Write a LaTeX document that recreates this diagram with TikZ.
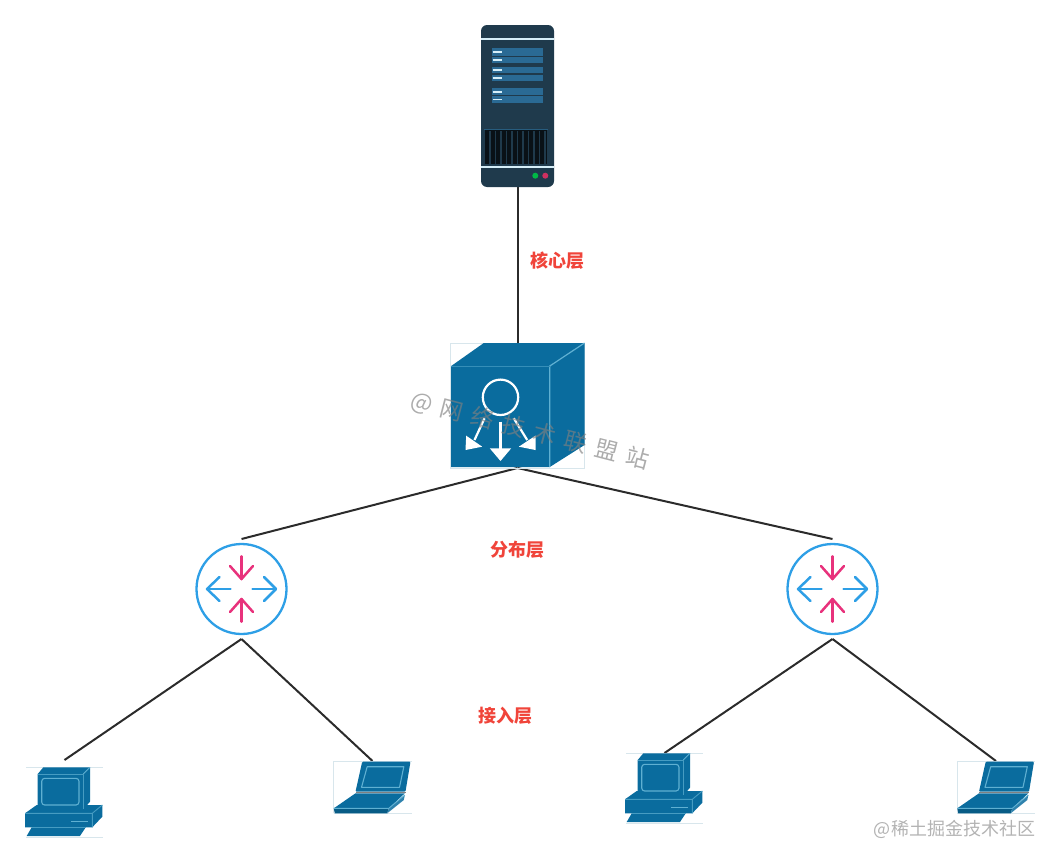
\documentclass[tikz,border=0pt]{standalone}
\usepackage{fontspec}
\usepackage{xcolor}
\usetikzlibrary{positioning}
\newfontfamily\cjk{Noto Sans CJK SC}

\definecolor{iconblue}{HTML}{0A6C9E}
\definecolor{iconedge}{HTML}{5FB0D2}
\definecolor{iconframe}{HTML}{D8E6EC}
\definecolor{rackdark}{HTML}{1F3A4C}
\definecolor{rackpanel}{HTML}{2A6A94}
\definecolor{rackline}{HTML}{D5EEF8}
\definecolor{ringblue}{HTML}{2E9FE6}
\definecolor{arrowpink}{HTML}{E8327C}
\definecolor{layerred}{HTML}{F0443A}
\definecolor{linkgray}{HTML}{2B2B2B}

% server rack, drawn over node #1
\newcommand{\servericon}[1]{
\begin{scope}[shift={(#1.center)},shift={(-36.5,-81)}]
\fill[rackdark,rounded corners=6pt] (0,0) rectangle (73,162);
\foreach \ya/\yb in {23.3/30.7,31.7/38.3,41.7/48.3,50/56,63.3/70,71/77.7}{
    \fill[rackpanel] (10.7,\ya) rectangle (62.3,\yb);
    \draw[rackline,line width=1.7pt] (11.7,{(\ya+\yb)/2}) -- (21.3,{(\ya+\yb)/2});
}
\fill[black!70!rackdark] (4,105) rectangle (66.3,139);
\draw[rackpanel!70!rackdark,line width=1pt] (3,104) -- (67,104);
\foreach \xa in {9,14.5,...,64}{
    \draw[rackdark,line width=1.7pt] (\xa,106) -- (\xa,139);
}
\draw[rackline,line width=1.6pt] (0,14) -- (73,14);
\draw[rackline,line width=1.6pt] (0,141.7) -- (73,141.7);
\fill[green!45!teal] (54.3,150.7) circle (3);
\fill[purple!75!pink] (64.3,150.7) circle (3);
\end{scope}
}

% switch cube, drawn over node #1
\newcommand{\coreicon}[1]{
\begin{scope}[shift={(#1.center)},shift={(-67,-62.5)}]
\draw[iconframe,line width=0.7pt] (0,0) rectangle (134,125);
\fill[iconblue] (0.7,23) -- (33.3,0) -- (134,0) -- (134,102) -- (99.3,124) -- (0.7,124) -- cycle;
\draw[iconedge,line width=1.2pt] (134,0) -- (99.3,23) -- (99.3,124);
\draw[iconedge!50!iconblue,line width=0.7pt] (0.7,23) -- (99.3,23);
\draw[white,line width=2.2pt] (50,54.3) circle (17.7);
\draw[white,line width=2.2pt] (50,78.7) -- (50,106);
\fill[white] (39.3,105.3) -- (60.7,105.3) -- (50,118) -- cycle;
\draw[white,line width=2.2pt] (34,75.3) -- (24,97);
\fill[white] (15.7,92.7) -- (31.7,103.7) -- (15,107) -- cycle;
\draw[white,line width=2.2pt] (63.3,75.3) -- (76.7,97);
\fill[white] (85,92.7) -- (68.3,103.7) -- (85,107) -- cycle;
\end{scope}
}

% arrows inside a router, node #1
\newcommand{\routericon}[1]{
\begin{scope}[shift={(#1.center)},line width=2.5pt,line cap=round,line join=round]
\draw[arrowpink] (0,-32.7) -- (0,-10);
\draw[arrowpink] (-11.5,-23) -- (0,-10) -- (11.5,-23);
\draw[arrowpink] (0,32.7) -- (0,10);
\draw[arrowpink] (-11.5,23) -- (0,10) -- (11.5,23);
\draw[ringblue] (-11,0) -- (-34.5,0);
\draw[ringblue] (-22,-12) -- (-34.5,0) -- (-22,12);
\draw[ringblue] (11,0) -- (34.5,0);
\draw[ringblue] (22.5,-12) -- (34.5,0) -- (22.5,12);
\end{scope}
}

% desktop, drawn over node #1
\newcommand{\pcicon}[1]{
\begin{scope}[shift={(#1.center)},shift={(-38.5,-35)},line join=round]
\draw[iconframe,line width=0.7pt] (0,0) -- (77,0) (0,70) -- (77,70);
\fill[iconblue] (11.7,7) -- (17.3,0.3) -- (64,0.3) -- (64,34.7) -- (57.3,42.3) -- (11.7,42.3) -- cycle;
\fill[iconblue] (-1,46.3) -- (10.7,38) -- (76.3,38) -- (76.3,49.7) -- (66.3,60.3) -- (-1,60.3) -- cycle;
\fill[iconblue] (5.7,60.3) -- (0.7,69) -- (54,69) -- (59.7,60.3) -- cycle;
\draw[iconedge!70!iconblue,line width=0.9pt] (11.7,7) -- (57.3,7) -- (57.3,42.3);
\draw[iconedge,line width=0.9pt] (57.3,7) -- (64,0.3);
\draw[iconedge,line width=1.1pt,rounded corners=3pt] (15.7,11.3) rectangle (53,38);
\draw[iconedge!70!iconblue,line width=0.9pt] (-1,46.3) -- (66.3,46.3) -- (76.3,38) (66.3,46.3) -- (66.3,60.3);
\draw[iconedge!70!iconblue,line width=0.9pt] (5.7,60.3) -- (59.7,60.3);
\draw[iconedge,line width=1.3pt] (45,54.3) -- (61.7,54.3);
\end{scope}
}

% laptop, drawn over node #1
\newcommand{\laptopicon}[1]{
\begin{scope}[shift={(#1.center)},shift={(-39,-27)},line join=round]
\draw[iconframe,line width=0.7pt] (0,52.3) -- (0,0) -- (78,0) (0,52.3) -- (78,52.3);
\fill[iconblue,rounded corners=1pt] (28.7,0.7) -- (77,0.7) -- (72,30.7) -- (22,30.7) -- cycle;
\draw[iconedge,line width=1.1pt] (33.7,5.7) -- (70.3,5.7) -- (66,26.3) -- (28,26.3) -- cycle;
\draw[gray,line width=1.2pt] (22,31.3) -- (72,31.3);
\fill[iconblue] (22,32.3) -- (71.3,32.3) -- (55.3,47.3) -- (0.3,47.3) -- cycle;
\fill[iconblue!85!black] (0.3,47.3) -- (55.3,47.3) -- (53.7,52.3) -- (1.3,52.3) -- cycle;
\fill[iconblue!85!white] (55.3,47.3) -- (71.3,34) -- (70.3,39) -- (53.7,52.3) -- cycle;
\draw[iconedge,line width=0.9pt] (0.3,47.3) -- (55.3,47.3) -- (71.3,34);
\end{scope}
}

\begin{document}
\begin{tikzpicture}[
    x=1pt,
    y=-1pt,
    iconbox/.style={
        inner sep=0pt,
        outer sep=0pt
    },
    serverbox/.style={iconbox, minimum width=73pt, minimum height=162pt},
    corebox/.style={iconbox, minimum width=134pt, minimum height=125pt},
    routerbox/.style={
        circle,
        draw=ringblue,
        line width=2.3pt,
        inner sep=0pt,
        outer sep=5pt,
        minimum size=90pt
    },
    pcbox/.style={iconbox, minimum width=77pt, minimum height=70pt},
    laptopbox/.style={iconbox, minimum width=78pt, minimum height=54pt},
    link/.style={
        draw=linkgray,
        line width=2pt
    },
    layerlabel/.style={
        text=layerred,
        font=\cjk\bfseries\fontsize{18}{20}\selectfont
    },
    stamp/.style={
        text=gray,
        font=\cjk\fontsize{#1}{#1}\selectfont
    }
]

\useasboundingbox (0,0) rectangle (1058,862);

\node[serverbox] (server) at (517.5,106) {};

\node[corebox, below=156pt of server] (core) {};

\node[routerbox, below=71pt of core, xshift=-276pt] (routerL) {};

\node[routerbox, below=71pt of core, xshift=315pt] (routerR) {};

\node[pcbox, outer ysep=7pt, below=121pt of routerL, xshift=-177pt] (pcA) {};

\node[laptopbox, below=122pt of routerL, xshift=131pt] (laptopA) {};

\node[pcbox, below=114pt of routerR, xshift=-168pt] (pcB) {};

\node[laptopbox, below=122pt of routerR, xshift=163.5pt] (laptopB) {};

\draw[link] (server) -- (core);

\draw[link] (core.south) -- (routerL.north);

\draw[link] (core.south) -- (routerR.north);

\draw[link] (routerL.south) -- (pcA.north);

\draw[link] (routerL.south) -- (laptopA.north);

\draw[link] (routerR.south) -- (pcB.north);

\draw[link] (routerR.south) -- (laptopB.north);

\servericon{server}
\coreicon{core}
\routericon{routerL}
\routericon{routerR}
\pcicon{pcA}
\laptopicon{laptopA}
\pcicon{pcB}
\laptopicon{laptopB}

\node[layerlabel] (coreLabel) at (557,261) {核心层};

\node[layerlabel] (distLabel) at (517.5,550) {分布层};

\node[layerlabel] (accessLabel) at (505.5,716) {接入层};

\node[stamp=23, opacity=0.65, rotate=-14.5] (markMid) at (530,431) {@\hspace{9pt}网\hspace{9pt}络\hspace{9pt}技\hspace{9pt}术\hspace{9pt}联\hspace{9pt}盟\hspace{9pt}站};

\node[stamp=18, opacity=0.6] (markCorner) at (954.5,829) {@稀土掘金技术社区};

\end{tikzpicture}
\end{document}
